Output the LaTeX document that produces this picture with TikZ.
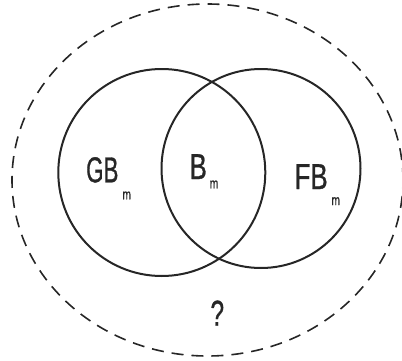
\documentclass[tikz,border=0pt]{standalone}
\usepackage{graphicx}
\usepackage{fontspec}
\setmainfont{Liberation Sans}
\newfontfamily\labfont{Liberation Sans}[RawFeature={embolden=0.9}]
\usetikzlibrary{shapes.geometric}
\newcommand{\biglab}[2][0.6]{\scalebox{#1}[1]{\fontsize{36}{40}\labfont #2}}
\newcommand{\smalllab}[1]{\scalebox{0.7}[1]{\fontsize{14.5}{16}\labfont #1}}
\tikzset{
  setline/.style={line width=2pt, draw=black!85},
  outerline/.style={line width=1.6pt, draw=black!85, dash pattern=on 12pt off 8pt},
  bigtext/.style={anchor=base west, inner sep=0pt, outer sep=0pt, text=black!85},
  subtext/.style={anchor=base west, inner sep=0pt, outer sep=0pt, text=black!85}
}
\begin{document}
\begin{tikzpicture}[x=1pt,y=1pt]
\useasboundingbox (0,0) rectangle (402,360);
% outer dashed ellipse
\node[outerline, ellipse, minimum width=391pt, minimum height=352pt, inner sep=0pt] (U) at (207.5,180) {};
% circles
\node[setline, circle, minimum size=207pt, inner sep=0pt] (G) at (161.8,187.5) {};
\node[setline, circle, minimum size=199pt, inner sep=0pt] (F) at (261,191.5) {};
% labels
\node[bigtext] (gb) at (86.2,177.7) {\biglab[0.62]{GB}};
\node[subtext] (gbm) at (122.5,160.7) {\smalllab{m}};
\node[bigtext] (b) at (189.6,181) {\biglab[0.72]{B}};
\node[subtext] (bm) at (209.8,171.7) {\smalllab{m}};
\node[bigtext] (fb) at (294.6,171) {\biglab[0.72]{FB}};
\node[subtext] (fbm) at (331.5,155) {\smalllab{m}};
\node[bigtext] (q) at (210.5,34.3) {\biglab[0.68]{?}};
\end{tikzpicture}
\end{document}
